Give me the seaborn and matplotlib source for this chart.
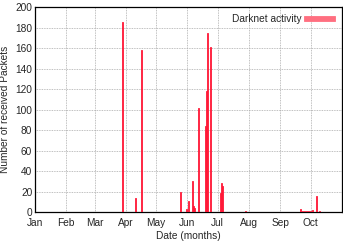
import seaborn as sns
import matplotlib.pyplot as plt
from matplotlib.ticker import MultipleLocator
import pandas as pd

# day of year (0 = Jan 1) and number of packets
days = [87, 100, 105, 144, 150, 152, 156, 157, 158, 162, 169, 170, 171, 174,
        184, 185, 186, 208, 263, 265, 267, 269, 271, 273, 275, 279, 282]
packets = [186, 14, 158, 20, 3, 11, 30, 6, 4, 102, 84, 118, 175, 161,
           19, 28, 25, 1, 3, 1, 1, 1, 1, 1, 2, 16, 1]
month_starts = [0, 31, 59, 90, 120, 151, 181, 212, 243, 273]
month_names = ["Jan", "Feb", "Mar", "Apr", "May", "Jun", "Jul", "Aug", "Sep", "Oct"]

df = pd.DataFrame({"day": days, "packets": packets})

sns.set_style("white")
plt.rcParams["font.family"] = ["Liberation Sans", "DejaVu Sans"]
fs = 7.3

fig, ax = plt.subplots(figsize=(3.43, 2.42), dpi=100)
fig.subplots_adjust(left=0.102, right=0.997, top=0.97, bottom=0.124)

ax.bar(df["day"], df["packets"], width=1.0, color="#ff6f80",
       edgecolor="#ff1030", linewidth=0.6, label="Darknet activity", zorder=3)

ax.set_xlim(0, 304)
ax.set_ylim(0, 200)
ax.set_xticks(month_starts)
ax.set_xticklabels(month_names)
ax.xaxis.set_minor_locator(MultipleLocator(10))
ax.yaxis.set_major_locator(MultipleLocator(20))
ax.tick_params(axis="both", which="both", direction="in", length=2.5,
               width=0.8, pad=2, labelsize=fs)
ax.tick_params(axis="x", which="major", pad=4.5)
ax.tick_params(axis="x", which="minor", length=2)
ax.grid(True, which="major", color="#aaaaaa", linestyle=(0, (1, 1)), linewidth=0.6)
for s in ax.spines.values():
    s.set_color("black")
    s.set_linewidth(0.9)

ax.set_xlabel("Date (months)", fontsize=fs, labelpad=2)
ax.set_ylabel("Number of received Packets", fontsize=fs, labelpad=4)

leg = ax.legend(loc="upper right", frameon=False, fontsize=fs, markerfirst=False,
                handlelength=3, handleheight=0.4, borderaxespad=0.3, handletextpad=0.3)
for h in leg.legend_handles:
    h.set_edgecolor("#ff6f80")

plt.savefig("out.png", dpi=100)
